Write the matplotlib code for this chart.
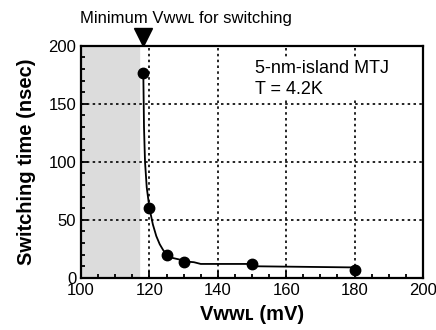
import matplotlib.pyplot as plt
from matplotlib.ticker import MultipleLocator

plt.rcParams['font.family'] = ['Liberation Sans', 'DejaVu Sans']

# measured points
v_wwl = [118, 120, 125, 130, 150, 180]
t_switch = [177, 60, 20, 14, 12, 7]

# hand-drawn guide curve through the points
curve_v = [118.2, 118.4, 118.7, 119.2, 120, 121, 122, 123, 124, 124.5, 125, 127, 128.5, 131, 133, 135, 150, 150.5, 180]
curve_t = [177, 130, 100, 78, 60, 46, 36, 29, 24, 22, 19, 17, 16, 14, 13.5, 12, 12, 10, 9]

v_min = 117  # minimum VWWL for switching

fig = plt.figure(figsize=(4.36, 3.30), dpi=100)
ax = fig.add_axes([0.186, 0.158, 0.784, 0.703])

ax.axvspan(100, v_min, color='#dcdcdc', zorder=0)
ax.plot(curve_v, curve_t, color='black', lw=1.3, zorder=3)
ax.plot(v_wwl, t_switch, 'o', color='black', ms=7.5, zorder=4)

ax.set_xlim(100, 200)
ax.set_ylim(0, 200)
ax.xaxis.set_major_locator(MultipleLocator(20))
ax.xaxis.set_minor_locator(MultipleLocator(5))
ax.yaxis.set_major_locator(MultipleLocator(50))
ax.yaxis.set_minor_locator(MultipleLocator(10))
ax.tick_params(which='both', direction='in', labelsize=12, width=1.3)
ax.tick_params(which='major', length=5)
ax.tick_params(which='minor', length=3)
ax.grid(True, which='major', linestyle=(0, (1.5, 2)), color='black', lw=1.2)
for s in ax.spines.values():
    s.set_linewidth(1.6)

ax.set_xlabel('Vᴡᴡʟ (mV)', fontsize=14.5, fontweight='bold', labelpad=5)
ax.set_ylabel('Switching time (nsec)', fontsize=14.5, fontweight='bold', labelpad=9)

ax.text(151, 188, '5-nm-island MTJ\nT = 4.2K', fontsize=13, va='top', ha='left',
        linespacing=1.3, zorder=5,
        bbox=dict(facecolor='white', edgecolor='none', pad=1.5))

ax.plot([v_min + 1], [207.5], marker='v', color='black', ms=13, clip_on=False)
fig.text(0.184, 0.945, 'Minimum Vᴡᴡʟ for switching', fontsize=12, va='center', ha='left')

fig.savefig('out.png', dpi=100)
